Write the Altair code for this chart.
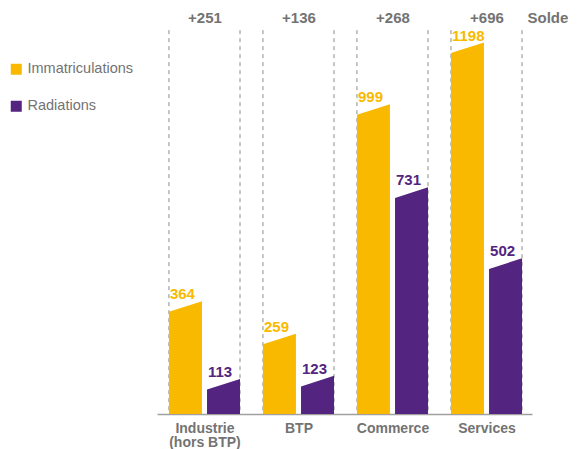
import json
import altair as alt
import pandas as pd

# ---- data ----
categories = ["Industrie\n(hors BTP)", "BTP", "Commerce", "Services"]
immatriculations = [364, 259, 999, 1198]
radiations = [113, 123, 731, 502]
solde_labels = ["+251", "+136", "+268", "+696"]
series_names = ["Immatriculations", "Radiations"]
series_colors = ["#F9B900", "#532580"]

# ---- style constants ----
HALF = 0.378      # half width of a group (in group units)
GAP = 0.027       # half gap between the two bars of a group
SLANT = 34        # slanted top: left corner lower (value units)
Y_MAX = 1245
LINE_TOP = 1238
FONT = "Liberation Sans"
GRAY = "#737373"

rows_area, rows_label, rows_rule = [], [], []
for g, cat in enumerate(categories):
    for s, vals in enumerate([immatriculations, radiations]):
        v = vals[g]
        x0 = g - HALF if s == 0 else g + GAP
        x1 = g - GAP if s == 0 else g + HALF
        key = f"{g}-{s}"
        rows_area.append(dict(key=key, series=series_names[s], x=x0, top=v - SLANT))
        rows_area.append(dict(key=key, series=series_names[s], x=x1, top=v))
        rows_label.append(dict(series=series_names[s], x=x0, y=v, text=str(v),
                               color=series_colors[s]))
    rows_rule.append(dict(x=g - HALF, y=LINE_TOP, y0=0))
    rows_rule.append(dict(x=g + HALF, y=LINE_TOP, y0=0))

df_area = pd.DataFrame(rows_area)
df_label = pd.DataFrame(rows_label)
df_rule = pd.DataFrame(rows_rule)

xscale = alt.Scale(domain=[-0.505, 3.484], nice=False, zero=False)
yscale = alt.Scale(domain=[0, Y_MAX], nice=False)

bottom_expr = json.dumps([c.split("\n") for c in categories]) + "[round(datum.value)]"
top_expr = json.dumps(solde_labels) + "[round(datum.value)]"

rules = alt.Chart(df_rule).mark_rule(
    color="#8c8c8c", strokeDash=[4, 4], strokeWidth=1
).encode(
    x=alt.X("x:Q", scale=xscale,
            axis=alt.Axis(orient="top", values=[0, 1, 2, 3], labelExpr=top_expr,
                          domain=False, ticks=False, tickSize=0, grid=False,
                          labelFont=FONT, labelFontSize=15, labelFontWeight="bold",
                          labelColor=GRAY, labelPadding=6, labelBaseline="alphabetic",
                          title="Solde", titleFont=FONT, titleFontSize=15,
                          titleFontWeight="bold", titleColor=GRAY, titleX=370,
                          titleY=-6, titleAlign="left", titleBaseline="alphabetic",
                          titleAngle=0)),
    y=alt.Y("y:Q", scale=yscale, axis=None),
    y2="y0:Q",
)

bars = alt.Chart(df_area).mark_area(opacity=1, interpolate="linear").encode(
    x=alt.X("x:Q", scale=xscale,
            axis=alt.Axis(orient="bottom", values=[0, 1, 2, 3], labelExpr=bottom_expr,
                          domain=True, domainColor="#a0a0a0", domainWidth=1.5,
                          ticks=False, tickSize=0, grid=False,
                          labelFont=FONT, labelFontSize=14, labelFontWeight="bold",
                          labelColor=GRAY, labelPadding=7, labelBaseline="top",
                          labelLineHeight=14, title=None)),
    y=alt.Y("top:Q", scale=yscale, stack=None, axis=None),
    color=alt.Color("series:N",
                    scale=alt.Scale(domain=series_names, range=series_colors),
                    legend=alt.Legend(orient="none", legendX=-148, legendY=34,
                                      title=None, symbolType="square",
                                      symbolSize=121, symbolStrokeWidth=0,
                                      labelFont=FONT, labelFontSize=14.5,
                                      labelColor=GRAY, labelOffset=4,
                                      rowPadding=22, padding=0,
                                      direction="vertical")),
    detail="key:N",
)

labels = alt.Chart(df_label).mark_text(
    align="left", baseline="alphabetic", dx=1, dy=-2,
    font=FONT, fontSize=15, fontWeight="bold"
).encode(
    x=alt.X("x:Q", scale=xscale, axis=None),
    y=alt.Y("y:Q", scale=yscale, axis=None),
    text="text:N",
    color=alt.Color("color:N", scale=None),
)

chart = alt.layer(rules, bars, labels).properties(
    width=375, height=386,
    padding={"left": 149, "top": 20, "right": 39, "bottom": 35},
    autosize=alt.AutoSizeParams(type="none"),
    background="white",
).configure_view(stroke=None)

chart.save("out.html", embed_options={"renderer": "svg", "actions": False})
